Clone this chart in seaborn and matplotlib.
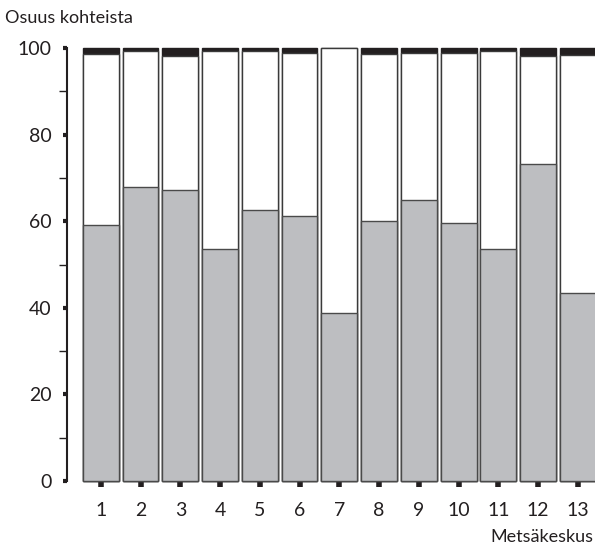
import numpy as np
import pandas as pd
import matplotlib.pyplot as plt
import seaborn as sns

# Data (percent of sites per forest centre)
centres = ['1', '2', '3', '4', '5', '6', '7', '8', '9', '10', '11', '12', '13']
gray_share = [59.1, 67.9, 67.2, 53.6, 62.6, 61.2, 38.8, 60.0, 64.9, 59.6,
              53.6, 73.2, 43.4]
black_share = [1.4, 0.8, 1.8, 0.8, 0.8, 1.2, 0.0, 1.4, 1.2, 1.2, 0.8, 1.8, 1.6]
white_share = [100 - g - b for g, b in zip(gray_share, black_share)]

df = pd.DataFrame({'centre': centres, 'gray': gray_share,
                   'white': white_share, 'black': black_share})
df['top_white'] = df['gray'] + df['white']
df['top_black'] = df['top_white'] + df['black']

sns.set_style('white')
plt.rcParams['font.family'] = ['Lato', 'DejaVu Sans']

fig = plt.figure(figsize=(5.95, 5.45), dpi=100)
ax = fig.add_axes([67 / 595, 64 / 545, 1 - 67 / 595, 433 / 545])

# stacked bars drawn as overlaid cumulative totals
sns.barplot(data=df, x='centre', y='top_black', order=centres, color='#231f20',
            width=0.9, edgecolor='#231f20', linewidth=1, saturation=1, ax=ax)
sns.barplot(data=df, x='centre', y='top_white', order=centres, color='white',
            width=0.9, edgecolor='#3a3a3a', linewidth=1, saturation=1, ax=ax)
sns.barplot(data=df, x='centre', y='gray', order=centres, color='#bdbec1',
            width=0.9, edgecolor='#4a4a4a', linewidth=1, saturation=1, ax=ax)
for p in ax.patches:
    p.set_clip_on(False)

ax.set_xlim(-0.85, 12.43)
ax.set_ylim(0, 100)
ax.set_yticks([0, 20, 40, 60, 80, 100])
ax.set_yticks([10, 30, 50, 70, 90], minor=True)
ax.tick_params(axis='y', which='major', left=True, length=3, width=3,
               color='#231f20', labelsize=14, pad=8, direction='out')
ax.tick_params(axis='y', which='minor', left=True, length=6, width=1,
               color='#231f20')
ax.tick_params(axis='x', bottom=True, length=4, width=4, color='#231f20',
               labelsize=14, pad=11)

for s in ['top', 'right', 'bottom']:
    ax.spines[s].set_visible(False)
ax.spines['left'].set_color('#231f20')
ax.spines['left'].set_linewidth(1.5)

ax.set_xlabel('')
ax.set_ylabel('')
fig.text(5 / 595, 1 - 18 / 545, 'Osuus kohteista', fontsize=13,
         ha='left', va='center', color='#231f20')
fig.text(593 / 595, 1 - 537 / 545, 'Metsäkeskus', fontsize=13,
         ha='right', va='center', color='#231f20')

for lbl in ax.get_xticklabels() + ax.get_yticklabels():
    lbl.set_color('#231f20')

fig.savefig('out.png', dpi=100)
